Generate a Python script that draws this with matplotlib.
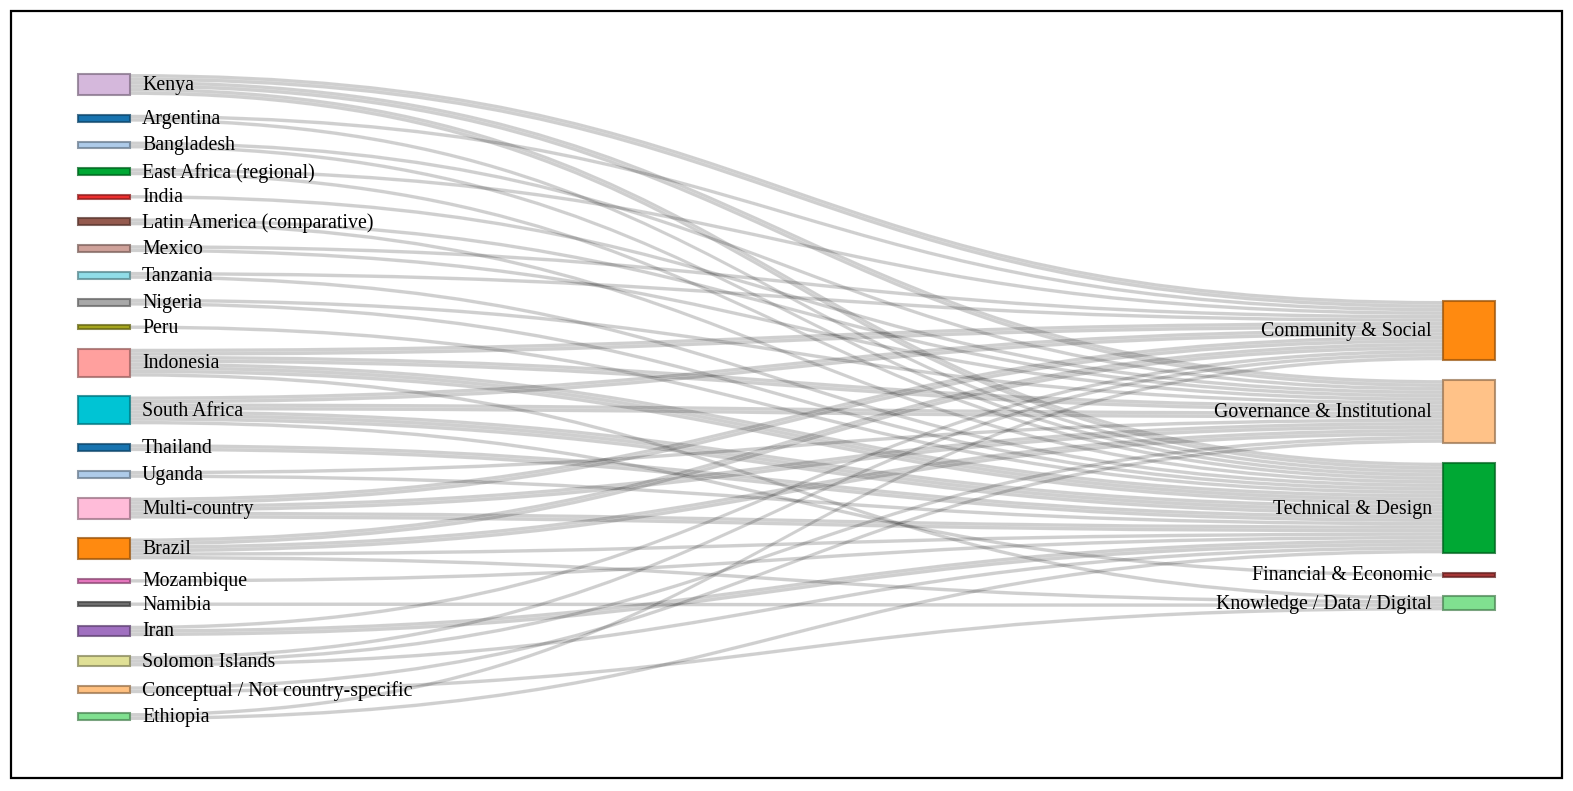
import matplotlib
matplotlib.use("Agg")
import matplotlib.pyplot as plt
from matplotlib.path import Path
from matplotlib.patches import PathPatch, Rectangle
import matplotlib.colors as mcolors

# ---------------- data ----------------
sources = ["Kenya", "Argentina", "Bangladesh", "East Africa (regional)", "India",
           "Latin America (comparative)", "Mexico", "Tanzania", "Nigeria", "Peru",
           "Indonesia", "South Africa", "Thailand", "Uganda", "Multi-country", "Brazil",
           "Mozambique", "Namibia", "Iran", "Solomon Islands",
           "Conceptual / Not country-specific", "Ethiopia"]
source_colors = ["#d5b8dc", "#1874b0", "#aecbe9", "#00a834", "#ee3030",
                 "#945a4e", "#cfa29a", "#90dde8", "#a8a8a8", "#a8a820",
                 "#ffa09e", "#00c4d4", "#1874b0", "#aecbe9", "#ffbcd9", "#ff8a10",
                 "#e878c0", "#707070", "#a070c0", "#e0e096",
                 "#ffc080", "#80e090"]
targets = ["Community & Social", "Governance & Institutional", "Technical & Design",
           "Financial & Economic", "Knowledge / Data / Digital"]
target_colors = ["#ff8a10", "#ffc288", "#00a834", "#a83838", "#80e090"]

# flows per source: [Community, Governance, Technical, Financial, Knowledge]
flows = {
    "Kenya":                             [2, 2, 2, 0, 0],
    "Argentina":                         [1, 0, 1, 0, 0],
    "Bangladesh":                        [0, 1, 1, 0, 0],
    "East Africa (regional)":            [1, 0, 1, 0, 0],
    "India":                             [0, 1, 0, 0, 0],
    "Latin America (comparative)":       [0, 1, 1, 0, 0],
    "Mexico":                            [1, 1, 0, 0, 0],
    "Tanzania":                          [1, 0, 1, 0, 0],
    "Nigeria":                           [0, 1, 1, 0, 0],
    "Peru":                              [0, 0, 1, 0, 0],
    "Indonesia":                         [2, 2, 3, 0, 1],
    "South Africa":                      [2, 2, 3, 1, 0],
    "Thailand":                          [0, 0, 2, 0, 0],
    "Uganda":                            [0, 1, 1, 0, 0],
    "Multi-country":                     [2, 2, 2, 0, 0],
    "Brazil":                            [2, 2, 1, 0, 1],
    "Mozambique":                        [0, 0, 1, 0, 0],
    "Namibia":                           [0, 0, 0, 0, 1],
    "Iran":                              [1, 0, 2, 0, 0],
    "Solomon Islands":                   [1, 1, 1, 0, 0],
    "Conceptual / Not country-specific": [0, 1, 0, 0, 1],
    "Ethiopia":                          [1, 0, 1, 0, 0],
}

# ---------------- layout ----------------
W, H = 1573, 791
fig = plt.figure(figsize=(W / 100, H / 100), dpi=100)
ax = fig.add_axes([0, 0, 1, 1])
ax.set_xlim(0, W)
ax.set_ylim(H, 0)
ax.axis("off")

LX0, NW, RX0 = 78, 52, 1443
LTOP, LBOT = 74, 720
RTOP = 301
PAD = 19.8

src_vals = [sum(flows[s]) for s in sources]
tgt_vals = [sum(flows[s][j] for s in sources) for j in range(len(targets))]
total = sum(src_vals)
k = (LBOT - LTOP - PAD * (len(sources) - 1)) / total

# node positions
src_y = []
y = LTOP
for v in src_vals:
    src_y.append(y)
    y += v * k + PAD
tgt_y = []
y = RTOP
for v in tgt_vals:
    tgt_y.append(y)
    y += v * k + PAD

# links (each unit of flow drawn as its own ribbon, like individual records)
src_off = list(src_y)
tgt_off = list(tgt_y)
links = []
for i, s in enumerate(sources):
    for j in range(len(targets)):
        for _ in range(flows[s][j]):
            links.append((i, j))
src_pos = {}
for n, (a, b) in sorted(enumerate(links), key=lambda e: (e[1][0], e[1][1])):
    src_pos[n] = src_off[a]
    src_off[a] += k
tgt_pos = {}
for n, (a, b) in sorted(enumerate(links), key=lambda e: (e[1][1], e[1][0])):
    tgt_pos[n] = tgt_off[b]
    tgt_off[b] += k

x0 = LX0 + NW
x1 = RX0
xm = (x0 + x1) / 2
for n, (a, b) in enumerate(links):
    h = k
    ys = src_pos[n]
    yt = tgt_pos[n]
    verts = [(x0, ys), (xm, ys), (xm, yt), (x1, yt),
             (x1, yt + h), (xm, yt + h), (xm, ys + h), (x0, ys + h), (x0, ys)]
    codes = [Path.MOVETO, Path.CURVE4, Path.CURVE4, Path.CURVE4,
             Path.LINETO, Path.CURVE4, Path.CURVE4, Path.CURVE4, Path.CLOSEPOLY]
    ax.add_patch(PathPatch(Path(verts, codes), facecolor=(0, 0, 0, 0.19),
                           edgecolor=(1, 1, 1, 0.25), lw=0.3, zorder=1))


def darker(c, f=0.6):
    r, g, b = mcolors.to_rgb(c)
    return (r * f, g * f, b * f, 0.75)


FONT = "Liberation Serif"
FS = 14.3
for i, s in enumerate(sources):
    h = src_vals[i] * k
    ax.add_patch(Rectangle((LX0, src_y[i]), NW, h, facecolor=source_colors[i],
                           edgecolor=darker(source_colors[i]), lw=1.5, zorder=3))
    ax.text(LX0 + NW + 12, src_y[i] + h / 2 + 1, s, fontsize=FS, family=FONT,
            va="center", ha="left", color="black", zorder=4)
for j, t in enumerate(targets):
    h = tgt_vals[j] * k
    ax.add_patch(Rectangle((RX0, tgt_y[j]), NW, h, facecolor=target_colors[j],
                           edgecolor=darker(target_colors[j]), lw=1.5, zorder=3))
    ax.text(RX0 - 11, tgt_y[j] + h / 2 + 1, t, fontsize=FS, family=FONT,
            va="center", ha="right", color="black", zorder=4)

# frame
ax.add_patch(Rectangle((11, 11), 1551, 767, facecolor="none", edgecolor="black",
                       lw=1.6, zorder=5))

fig.savefig("out.png", dpi=100)
